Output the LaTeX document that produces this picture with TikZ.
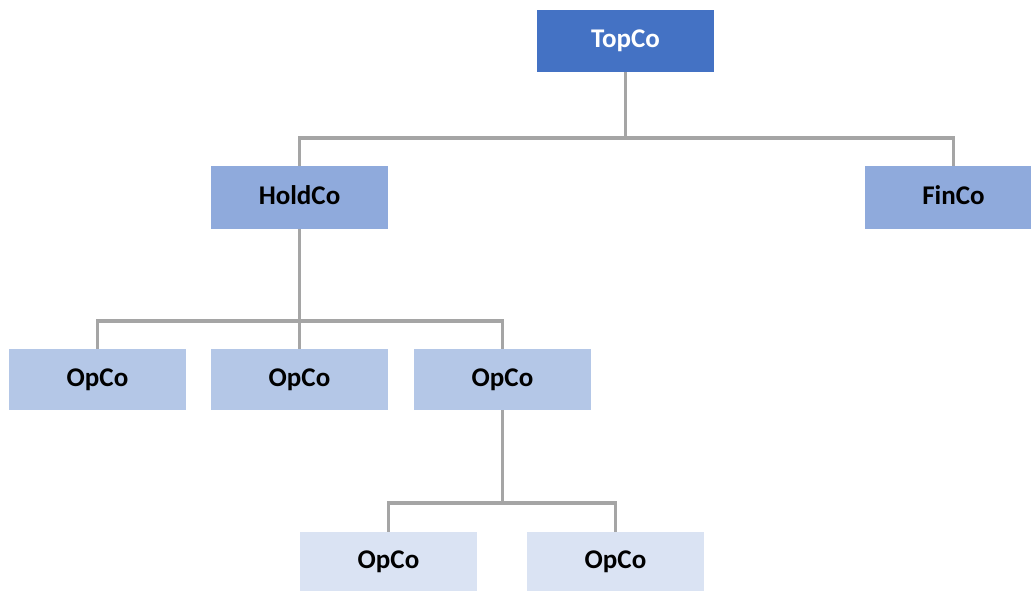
\documentclass[tikz,border=0pt]{standalone}
\usepackage{fontspec}
\setmainfont{Carlito}
\definecolor{c1}{HTML}{4472C4}
\definecolor{c2}{HTML}{8FAADC}
\definecolor{c3}{HTML}{B4C7E7}
\definecolor{c4}{HTML}{DAE3F3}
\definecolor{ln}{HTML}{A5A5A5}
\newcommand{\up}[2]{\raisebox{#1}{#2}}
\tikzset{
  box/.style={rectangle, inner sep=0pt, minimum width=177pt, minimum height=62pt, font=\fontsize{27}{31}\selectfont\bfseries},
  conn/.style={draw=ln, line width=3.6pt},
}
\begin{document}
\begin{tikzpicture}[x=1pt,y=-1pt]
\useasboundingbox (0,0) rectangle (1031,591);
\node[box, fill=c1, text=white, minimum height=62pt] (top) at (625.5,41) {\up{4pt}{TopCo}};
\node[box, fill=c2, minimum height=63pt] (hold) at (299.5,197.5) {\up{5pt}{HoldCo}};
\node[box, fill=c2, minimum height=63pt] (fin) at (953.5,197.5) {\up{5pt}{FinCo}};
\node[box, fill=c3, minimum height=61pt] (o1) at (97.5,379.5) {\up{1.5pt}{OpCo}};
\node[box, fill=c3, minimum height=61pt] (o2) at (299.5,379.5) {\up{1.5pt}{OpCo}};
\node[box, fill=c3, minimum height=61pt] (o3) at (502.5,379.5) {\up{1.5pt}{OpCo}};
\node[box, fill=c4] (o4) at (388.5,563) {\up{6pt}{OpCo}};
\node[box, fill=c4] (o5) at (615.5,563) {\up{6pt}{OpCo}};
\coordinate (j1) at (625.5,138);
\coordinate (j2) at (299.5,321);
\coordinate (j3) at (502.5,503);
\draw[conn] (top.south) -- (j1) -| (hold.north);
\draw[conn] (j1) -| (fin.north);
\draw[conn] (hold.south) -- (j2) -| (o1.north);
\draw[conn] (j2) -- (o2.north);
\draw[conn] (j2) -| (o3.north);
\draw[conn] (o3.south) -- (j3) -| (o4.north);
\draw[conn] (j3) -| (o5.north);
\end{tikzpicture}
\end{document}
